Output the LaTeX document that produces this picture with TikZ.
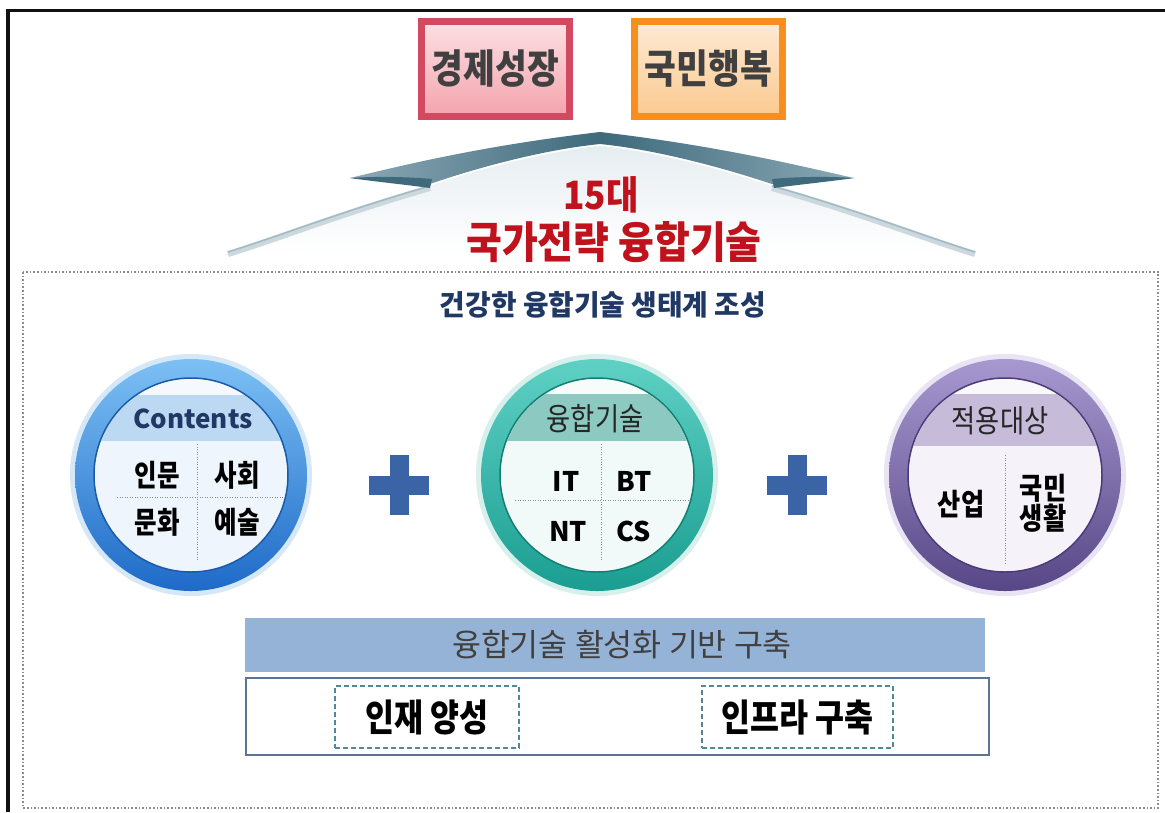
\documentclass[tikz,border=0pt]{standalone}
\usepackage{fontspec}
\usepackage{graphicx}
\setmainfont{Noto Sans CJK KR}
\usetikzlibrary{shadings}
\definecolor{frameblk}{HTML}{111111}
\definecolor{redborder}{HTML}{D24A62}
\definecolor{redtop}{HTML}{FCE0E3}
\definecolor{redbot}{HTML}{F4A3AD}
\definecolor{orborder}{HTML}{F78E1E}
\definecolor{ortop}{HTML}{FEEAD4}
\definecolor{orbot}{HTML}{FBC98F}
\definecolor{boxtext}{HTML}{404040}
\definecolor{titlered}{HTML}{C0121C}
\definecolor{navy}{HTML}{1F3864}
\definecolor{roofdark}{HTML}{3E6A7B}
\definecolor{roofmid}{HTML}{8CA9B6}
\definecolor{roofpale}{HTML}{E6EDF1}
\definecolor{dotgray}{HTML}{8C8C8C}
\definecolor{plusblue}{HTML}{3B64A6}
\definecolor{barblue}{HTML}{95B3D7}
\definecolor{baseedge}{HTML}{5A7593}
\definecolor{dashedge}{HTML}{4E8A9A}
% circle colours
\definecolor{bhalo}{HTML}{D6E8F7}\definecolor{btop}{HTML}{7CC0F4}\definecolor{bbot}{HTML}{1E6AC8}
\definecolor{bhead}{HTML}{BCD9F3}\definecolor{blow}{HTML}{EEF5FC}\definecolor{brim}{HTML}{1A5AA8}
\definecolor{thalo}{HTML}{D8F0EC}\definecolor{ttop}{HTML}{5FD0C4}\definecolor{tbot}{HTML}{1A9E91}
\definecolor{thead}{HTML}{8CC9C0}\definecolor{tlow}{HTML}{F2FAF9}\definecolor{trim}{HTML}{137F74}
\definecolor{phalo}{HTML}{E9E4F4}\definecolor{ptop}{HTML}{A898D0}\definecolor{pbot}{HTML}{574786}
\definecolor{phead}{HTML}{C6BBD9}\definecolor{plow}{HTML}{F5F3F9}\definecolor{prim}{HTML}{4A3C78}
\newcommand{\tallt}[2]{\scalebox{#1}[1.25]{#2}}
\begin{document}
\begin{tikzpicture}[x=1pt,y=-1pt,
  topbox/.style={line width=7pt, minimum width=148pt, minimum height=95pt, inner sep=0pt,
     text=boxtext, font=\fontsize{32}{32}\selectfont\bfseries},
  celltext/.style={inner sep=0pt, font=\fontsize{24}{26}\selectfont\bfseries, text=black, align=center},
  headtext/.style={inner sep=0pt, font=\fontsize{25}{25}\selectfont},
  griddot/.style={dotgray, line width=1pt, dash pattern=on 1pt off 1.5pt},
  dashbox/.style={draw=dashedge, line width=1.6pt, dash pattern=on 5pt off 3pt, fill=white,
     inner sep=0pt, font=\fontsize{30}{30}\selectfont\bfseries, text=black}]
\useasboundingbox (0,0) rectangle (1165,812);
\fill[white] (0,0) rectangle (1165,812);
% outer frame (only left and top visible)
\draw[frameblk, line width=3.5pt] (8,812) -- (8,10.5) -- (1165,10.5);

% top boxes
\node[topbox, draw=redborder, top color=redtop, bottom color=redbot] (growth) at (495.5,69) {\tallt{1.08}{경제성장}};
\node[topbox, draw=orborder, top color=ortop, bottom color=orbot] (happy) at (708.5,69) {\tallt{1.08}{국민행복}};

% roof body
\shade[top color=roofpale, bottom color=white]
  (430,186) .. controls (340,212) and (280,236) .. (228,252) -- (975,252)
  .. controls (923,236) and (863,212) .. (772,186)
  .. controls (730,172) and (660,152) .. (600,146)
  .. controls (540,152) and (470,172) .. (430,186) -- cycle;
\draw[roofmid!45, line width=6pt] (430,188) .. controls (340,214) and (280,238) .. (228,254);
\draw[roofmid!45, line width=6pt] (772,188) .. controls (863,214) and (923,238) .. (975,254);
\draw[roofmid!80, line width=1.5pt] (430,186) .. controls (340,212) and (280,236) .. (228,252);
\draw[roofmid!80, line width=1.5pt] (772,186) .. controls (863,212) and (923,236) .. (975,252);
% roof band
\shade[left color=roofmid, right color=roofmid, middle color=roofdark]
  (350,178) .. controls (400,166) and (480,146) .. (600,132)
  .. controls (720,146) and (800,166) .. (854,178)
  -- (772,184) .. controls (730,170) and (660,150) .. (600,144)
  .. controls (540,150) and (470,170) .. (430,184) -- cycle;
\fill[roofdark] (350,178) .. controls (380,176) and (410,177) .. (432,179) -- (430,188) .. controls (400,184) and (370,181) .. (350,178) -- cycle;
\fill[roofdark] (854,178) .. controls (824,176) and (794,177) .. (772,179) -- (774,188) .. controls (804,184) and (834,181) .. (854,178) -- cycle;

% title
\node[inner sep=0pt, text=titlered, font=\fontsize{32}{32}\selectfont\bfseries] (t15) at (601,195) {\scalebox{1.1}[1.22]{15대}};
\node[inner sep=0pt, text=titlered, font=\fontsize{33}{33}\selectfont\bfseries] (tnat) at (614,242) {\scalebox{1.18}[1.32]{국가전략 융합기술}};

% dotted box
\draw[dotgray, line width=2pt, dash pattern=on 1.6pt off 2pt] (23,272) rectangle (1158,808);
\node[inner sep=0pt, text=navy, font=\fontsize{27}{27}\selectfont\bfseries] (eco) at (603,305) {\scalebox{1.03}[1.05]{건강한 융합기술 생태계 조성}};

% ---------- left circle ----------
\fill[bhalo] (191,475) circle (121);
\shade[top color=btop, bottom color=bbot] (191,475) circle (116);
\fill[white] (191,475) circle (97);
\begin{scope}
\clip (191,475) circle (96);
\fill[blow] (60,441) rectangle (320,620);
\fill[bhead] (60,395) rectangle (320,441);
\fill[blow!60!white] (60,340) rectangle (320,395);
\end{scope}
\draw[brim, line width=1.5pt] (191,475) circle (97);
\draw[griddot] (197,444) -- (197,560);
\draw[griddot] (117,497) -- (283,497);
\node[inner sep=0pt, text=navy, font=\fontsize{26}{26}\selectfont\bfseries] (cont) at (193,419) {Contents};
\node[celltext] (c11) at (157,475) {\tallt{1.02}{인문}};
\node[celltext] (c12) at (237,475) {\tallt{1.02}{사회}};
\node[celltext] (c21) at (157,522) {\tallt{1.02}{문화}};
\node[celltext] (c22) at (237,522) {\tallt{1.02}{예술}};

% plus 1
\fill[plusblue] (369,475.5) rectangle (429,494.5);
\fill[plusblue] (389.5,455) rectangle (408.5,515);

% ---------- middle circle ----------
\fill[thalo] (597,475) circle (121);
\shade[top color=ttop, bottom color=tbot] (597,475) circle (116);
\fill[white] (597,475) circle (97);
\begin{scope}
\clip (597,475) circle (96);
\fill[tlow] (460,441) rectangle (730,620);
\fill[thead] (460,394) rectangle (730,441);
\fill[tlow!60!white] (460,340) rectangle (730,394);
\end{scope}
\draw[trim, line width=1.5pt] (597,475) circle (97);
\draw[griddot] (601,444) -- (601,560);
\draw[griddot] (515,500) -- (688,500);
\node[headtext, text=black!85] (tech) at (595,419) {\tallt{1.05}{융합기술}};
\node[celltext, font=\fontsize{27}{27}\selectfont\bfseries] (it) at (566,481) {IT};
\node[celltext, font=\fontsize{27}{27}\selectfont\bfseries] (bt) at (634,481) {BT};
\node[celltext, font=\fontsize{27}{27}\selectfont\bfseries] (nt) at (568,531) {NT};
\node[celltext, font=\fontsize{27}{27}\selectfont\bfseries] (cs) at (634,531) {CS};

% plus 2
\fill[plusblue] (767,475.5) rectangle (827,494.5);
\fill[plusblue] (787.5,455) rectangle (806.5,515);

% ---------- right circle ----------
\fill[phalo] (1005,475) circle (121);
\shade[top color=ptop, bottom color=pbot] (1005,475) circle (116);
\fill[white] (1005,475) circle (97);
\begin{scope}
\clip (1005,475) circle (96);
\fill[plow] (870,446) rectangle (1140,620);
\fill[phead] (870,394) rectangle (1140,446);
\fill[plow!60!white] (870,340) rectangle (1140,394);
\end{scope}
\draw[prim, line width=1.5pt] (1005,475) circle (97);
\draw[griddot] (1005,455) -- (1005,563);
\node[headtext, text=black!85] (target) at (1000,421) {\tallt{1.05}{적용대상}};
\node[celltext] (ind) at (961,504) {\tallt{1.05}{산업}};
\node[celltext, font=\fontsize{24}{30}\selectfont\bfseries] (life) at (1043,503) {\tallt{1.05}{국민}\\\tallt{1.05}{생활}};

% ---------- bottom ----------
\node[fill=barblue, minimum width=740pt, minimum height=54pt, inner sep=0pt] (bar) at (615,645) {};
\node[inner sep=0pt, text=black!75, font=\fontsize{30}{30}\selectfont] (bartext) at (622,645) {\scalebox{1.05}[1.05]{융합기술 활성화 기반 구축}};
\node[draw=baseedge, line width=2pt, fill=white, minimum width=743pt, minimum height=77pt] (base) at (617,716) {};
\node[dashbox, minimum width=184pt, minimum height=62pt] (talent) at (427,717) {\tallt{1.05}{인재 양성}};
\node[dashbox, minimum width=191pt, minimum height=62pt] (infra) at (797.5,717) {\tallt{1.05}{인프라 구축}};
\end{tikzpicture}
\end{document}
